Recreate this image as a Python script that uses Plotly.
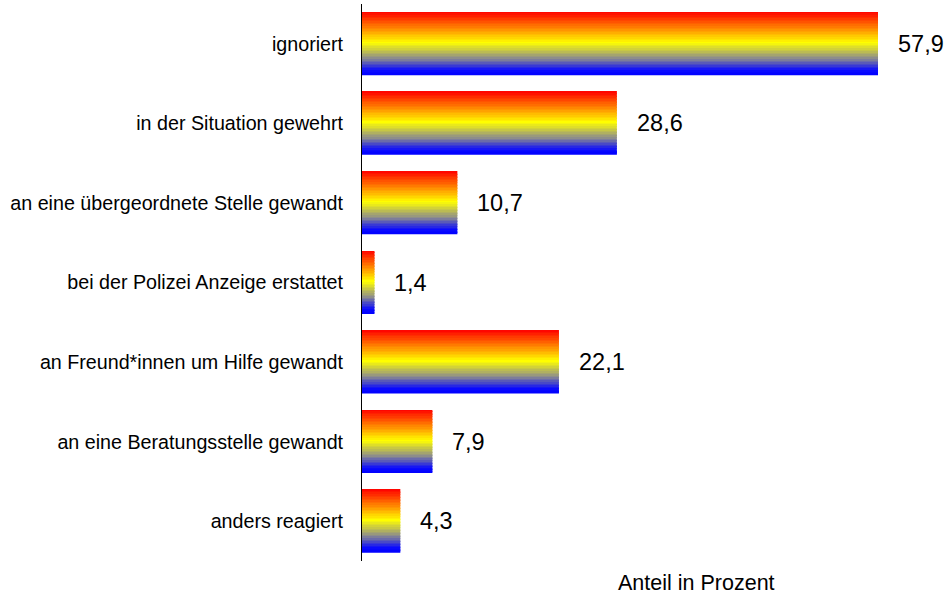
import plotly.graph_objects as go
import plotly.colors as pc

categories = [
    "ignoriert",
    "in der Situation gewehrt",
    "an eine übergeordnete Stelle gewandt",
    "bei der Polizei Anzeige erstattet",
    "an Freund*innen um Hilfe gewandt",
    "an eine Beratungsstelle gewandt",
    "anders reagiert",
]
values = [57.9, 28.6, 10.7, 1.4, 22.1, 7.9, 4.3]
value_labels = ["57,9", "28,6", "10,7", "1,4", "22,1", "7,9", "4,3"]
axis_title = "Anteil in Prozent"

# vertical gradient top -> bottom
gradient = [[0.0, "#ff0000"], [0.25, "#ff8000"], [0.49, "#ffff00"],
            [0.74, "#8c8c8c"], [0.93, "#0a0aff"], [1.0, "#0000ff"]]

N = 40
bar_w = 0.79
slice_w = bar_w / N

fig = go.Figure()
for k in range(N):
    frac = (k + 0.5) / N
    color = pc.sample_colorscale(gradient, [frac])[0]
    fig.add_trace(go.Bar(
        x=values, y=categories, orientation="h",
        width=slice_w * 1.15,
        offset=-bar_w / 2 + k * slice_w if k < N - 1 else bar_w / 2 - slice_w * 1.15,
        marker=dict(color=color, line=dict(width=0)),
        showlegend=False, hoverinfo="skip",
    ))

for c, v, t in zip(categories, values, value_labels):
    fig.add_annotation(x=v, y=c, text=t, showarrow=False, xanchor="left",
                       xshift=18, font=dict(size=23.5, color="black"))

fig.add_annotation(xref="x domain", yref="y domain",
                   x=(696 - 362) / 582, y=(561 - 583) / 557,
                   xanchor="center", yanchor="middle",
                   text=axis_title, showarrow=False,
                   font=dict(size=21.5, color="black"))

fig.update_layout(
    width=944, height=595,
    margin=dict(l=362, r=0, t=4, b=34),
    barmode="overlay",
    paper_bgcolor="white", plot_bgcolor="white",
    font=dict(family="Liberation Sans, Arial, sans-serif", color="black"),
    xaxis=dict(range=[0, 582 / (516 / 57.9)], showgrid=False, zeroline=False,
               showticklabels=False, showline=False, ticks=""),
    yaxis=dict(autorange="reversed", showgrid=False, zeroline=False,
               showline=True, linecolor="black", linewidth=1, ticks="",
               ticklabelstandoff=14, tickfont=dict(size=19.7)),
)

fig.write_html("out.html", config={"displayModeBar": False},
               post_script="document.body.style.margin='0';")
